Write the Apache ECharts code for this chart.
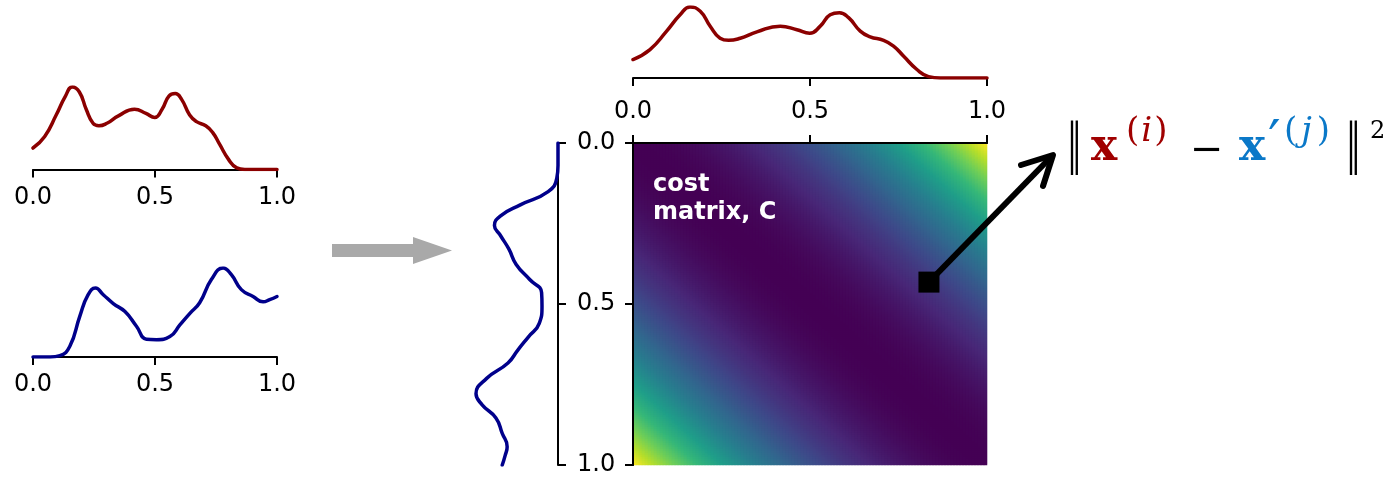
<!DOCTYPE html>
<html>
<head>
<meta charset="utf-8">
<script src="https://cdn.jsdelivr.net/npm/echarts@6/dist/echarts.min.js"></script>
<style>
html,body{margin:0;padding:0;background:#fff;}
#chart{width:1399px;height:477px;}
</style>
</head>
<body>
<div id="chart"></div>
<script>
// ---- data ----
// source density (red): positions and relative density
var redX = [0, 0.048, 0.095, 0.133, 0.161, 0.19, 0.218, 0.246, 0.27, 0.303, 0.35, 0.416, 0.463, 0.499, 0.529, 0.557, 0.583, 0.609, 0.642, 0.67, 0.708, 0.736, 0.764, 0.802, 0.835, 0.868, 1.0];
var redY = [0.26, 0.40, 0.66, 0.89, 1.0, 0.94, 0.73, 0.56, 0.53, 0.56, 0.65, 0.73, 0.68, 0.63, 0.73, 0.89, 0.92, 0.85, 0.66, 0.58, 0.53, 0.45, 0.31, 0.12, 0.02, 0, 0];
// target density (blue)
var blueX = [0, 0.07, 0.11, 0.151, 0.192, 0.226, 0.256, 0.288, 0.329, 0.377, 0.424, 0.465, 0.506, 0.561, 0.602, 0.643, 0.683, 0.731, 0.779, 0.813, 0.854, 0.902, 0.943, 0.97, 1.0];
var blueY = [0, 0, 0.015, 0.12, 0.46, 0.70, 0.775, 0.70, 0.60, 0.51, 0.345, 0.20, 0.195, 0.23, 0.36, 0.49, 0.61, 0.87, 1.0, 0.925, 0.757, 0.68, 0.62, 0.644, 0.68];
// axis ticks
var tickValues = [0, 0.5, 1.0];
// highlighted cost-matrix entry (x position, y position)
var markedEntry = [0.836, 0.432];
// cost-matrix resolution (cells across, cells down)
var nCols = 118, nRows = 161;

var viridis = ['#440154','#482878','#3e4989','#31688e','#26828e','#1f9e89','#35b779','#6ece58','#b5de2b','#fde725'];

function pairs(xs, ys){ return xs.map(function(x,i){ return [x, ys[i]]; }); }
function pairsV(xs, ys){ return xs.map(function(x,i){ return [ys[i], x]; }); }

// cost matrix C_ij = (x_i - x'_j)^2 on the grid positions
var colPos = [], rowPos = [];
for (var i = 0; i < nCols; i++) colPos.push((i + 0.5) / nCols);
for (var j = 0; j < nRows; j++) rowPos.push((j + 0.5) / nRows);
var costData = [];
for (var i = 0; i < nCols; i++) for (var j = 0; j < nRows; j++) {
  var d = colPos[i] - rowPos[j];
  costData.push([i, j, d * d]);
}

var FONT = 'DejaVu Sans';
var axisLineStyle = {lineStyle:{color:'#000', width:2}};
var tickStyle = {show:true, length:8, lineStyle:{color:'#000', width:2}};
function fmt(v){ return v.toFixed(1); }

function densityX(gridIndex, margin){
  return {gridIndex:gridIndex, type:'value', min:0, max:1, interval:0.5, position:'bottom',
    axisLine:{show:true, lineStyle:{color:'#000', width:2}}, axisTick:tickStyle,
    axisLabel:{show:true, margin:margin, color:'#000', fontFamily:FONT, fontSize:24, formatter:fmt},
    splitLine:{show:false}};
}
function hiddenY(gridIndex){
  return {gridIndex:gridIndex, type:'value', min:0, max:1, show:false, splitLine:{show:false}};
}
function densityLine(xi, data, color){
  return {type:'line', xAxisIndex:xi, yAxisIndex:xi, data:data, smooth:0.5, showSymbol:false,
    lineStyle:{color:color, width:3.5, cap:'round', join:'round'}, z:3};
}

var chart = echarts.init(document.getElementById('chart'), null, {renderer:'canvas'});
chart.setOption({
  animation:false,
  backgroundColor:'#fff',
  grid:[
    {left:33, top:87, width:244, height:82.5},
    {left:33, top:268, width:244, height:89},
    {left:633, top:7, width:354, height:71},
    {left:476, top:143, width:82, height:322},
    {left:633, top:143, width:354, height:322}
  ],
  xAxis:[
    densityX(0, 16),
    densityX(1, 16),
    densityX(2, 22),
    {gridIndex:3, type:'value', min:0, max:1, inverse:true, show:false, splitLine:{show:false}},
    {gridIndex:4, type:'category', data:colPos, position:'bottom', z:5,
      axisLine:axisLineStyle, axisTick:{show:false}, axisLabel:{show:false}, splitLine:{show:false}},
    {gridIndex:4, type:'value', min:0, max:1, interval:0.5, position:'top', z:5,
      axisLine:axisLineStyle, axisTick:tickStyle, axisLabel:{show:false}, splitLine:{show:false}}
  ],
  yAxis:[
    hiddenY(0), hiddenY(1), hiddenY(2),
    {gridIndex:3, type:'value', min:0, max:1, interval:0.5, inverse:true, position:'right',
      axisLine:{show:true, lineStyle:{color:'#000', width:2}}, axisTick:tickStyle,
      axisLabel:{show:true, margin:19, color:'#000', fontFamily:FONT, fontSize:24, formatter:fmt},
      splitLine:{show:false}},
    {gridIndex:4, type:'category', data:rowPos, inverse:true, position:'right', z:5,
      axisLine:axisLineStyle, axisTick:{show:false}, axisLabel:{show:false}, splitLine:{show:false}},
    {gridIndex:4, type:'value', min:0, max:1, interval:0.5, inverse:true, position:'left', z:5,
      axisLine:axisLineStyle, axisTick:tickStyle, axisLabel:{show:false}, splitLine:{show:false}}
  ],
  visualMap:{show:false, seriesIndex:4, min:0, max:1, inRange:{color:viridis}},
  series:[
    densityLine(0, pairs(redX, redY), '#8b0000'),
    densityLine(1, pairs(blueX, blueY), '#00008b'),
    densityLine(2, pairs(redX, redY), '#8b0000'),
    densityLine(3, pairsV(blueX, blueY), '#00008b'),
    {type:'heatmap', xAxisIndex:4, yAxisIndex:4, data:costData, progressive:0, emphasis:{disabled:true}, itemStyle:{borderWidth:0}},
    {type:'scatter', xAxisIndex:5, yAxisIndex:5, data:[markedEntry], symbol:'rect', symbolSize:21, itemStyle:{color:'#000', opacity:1}, z:10}
  ],
  graphic:[
    {type:'polygon', shape:{points:[[332,244],[413,244],[413,237],[452,250.5],[413,264],[413,257],[332,257]]}, style:{fill:'#a9a9a9'}},
    {type:'line', shape:{x1:929, y1:282, x2:1050, y2:158}, style:{stroke:'#000', lineWidth:6}, z:20},
    {type:'polyline', shape:{points:[[1021,165],[1053,155],[1043,186]]}, style:{stroke:'#000', lineWidth:6, lineCap:'round', lineJoin:'round', fill:null}, z:20},
    {type:'text', left:653, top:171, z:20, style:{text:'cost\nmatrix, C', fill:'#fff', font:'bold 24px "DejaVu Sans"', lineHeight:28}},
    {type:'text', x:1067, y:148, scaleX:0.55, z:20, style:{text:'\u2016', fill:'#000', font:'54px "DejaVu Serif"', verticalAlign:'middle'}},
    {type:'text', x:1091, y:148.5, z:20, style:{text:'x', fill:'#a00000', font:'bold 44px "DejaVu Serif"', verticalAlign:'middle'}},
    {type:'text', x:1126, y:132, z:20, style:{text:'{p|(}{it|i}{p|)}', fill:'#a00000', verticalAlign:'middle',
      rich:{p:{font:'34px "DejaVu Serif"', fill:'#a00000'}, it:{font:'italic 34px "DejaVu Serif"', fill:'#a00000', padding:[0,2,0,2]}}}},
    {type:'text', x:1190, y:152, z:20, style:{text:'\u2212', fill:'#000', font:'40px "DejaVu Serif"', verticalAlign:'middle'}},
    {type:'text', x:1239, y:148.5, z:20, style:{text:'x', fill:'#0a78c8', font:'bold 44px "DejaVu Serif"', verticalAlign:'middle'}},
    {type:'text', x:1268, y:145, z:20, style:{text:'\u2032', fill:'#0a78c8', font:'56px "DejaVu Serif"', verticalAlign:'middle'}},
    {type:'text', x:1284, y:132, z:20, style:{text:'{p|(}{it|j}{p|)}', fill:'#0a78c8', verticalAlign:'middle',
      rich:{p:{font:'34px "DejaVu Serif"', fill:'#0a78c8'}, it:{font:'italic 34px "DejaVu Serif"', fill:'#0a78c8', padding:[0,5,0,4]}}}},
    {type:'text', x:1346, y:148, scaleX:0.55, z:20, style:{text:'\u2016', fill:'#000', font:'54px "DejaVu Serif"', verticalAlign:'middle'}},
    {type:'text', x:1370, y:132, z:20, style:{text:'2', fill:'#000', font:'24px "DejaVu Serif"', verticalAlign:'middle'}}
  ]
});
</script>
</body>
</html>
